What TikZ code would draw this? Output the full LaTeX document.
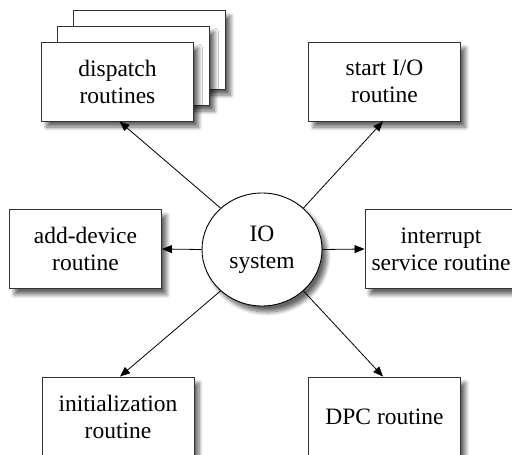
\documentclass[tikz,border=0pt]{standalone}
\usepackage{fontspec}
\setmainfont{Liberation Serif}
\usetikzlibrary{shadows.blur, arrows.meta, shapes.geometric}
\tikzset{
  softshadow/.style={blur shadow={shadow xshift=5pt, shadow yshift=-6pt,
      shadow blur steps=8, shadow blur radius=4pt, shadow opacity=60}},
  routine/.style={draw=black!80, fill=white, line width=0.9pt,
      minimum width=152pt, minimum height=79pt, inner sep=0pt,
      align=center, font=\fontsize{23.5}{27}\selectfont, softshadow},
  hub/.style={ellipse, draw=black, fill=white, line width=0.9pt,
      minimum width=120pt, minimum height=113pt, inner sep=0pt,
      align=center, font=\fontsize{23.5}{27}\selectfont, softshadow},
  link/.style={draw=black, line width=0.8pt,
      -{Triangle[length=10pt, width=8pt]}},
}
\begin{document}
\begin{tikzpicture}[x=1pt, y=-1pt]
  \path[use as bounding box, clip] (0,0) rectangle (512,455);

  % stack of dispatch routines
  \node[routine] (dispC) at (149.5, 49.5) {};
  \node[routine] (dispB) at (133.5, 65.5) {};
  \node[routine] (disp)  at (117.5, 81.5) {dispatch\\routines};

  \node[routine] (start) at (384.5, 81.5) {start I/O\\routine};
  \node[routine] (add)   at (85.5, 249)   {add-device\\routine};
  \node[routine] (irq)   at (441, 249)    {interrupt\\service routine};
  \node[routine] (init)  at (118, 416.5)  {initialization\\routine};
  \node[routine] (dpc)   at (384.5, 416.5){DPC routine};

  \node[hub] (io) at (262, 249.5) {IO\\system};

  \draw[link] (io.135) -- ([xshift=2pt]disp.south);
  \draw[link] (io.45)  -- ([xshift=-1.5pt]start.south);
  \draw[link] (io.west) -- (add.east);
  \draw[link] (io.east) -- (irq.west);
  \draw[link] (io.225) -- ([xshift=2pt]init.north);
  \draw[link] (io.-45) -- ([xshift=-1.5pt]dpc.north);
\end{tikzpicture}
\end{document}
